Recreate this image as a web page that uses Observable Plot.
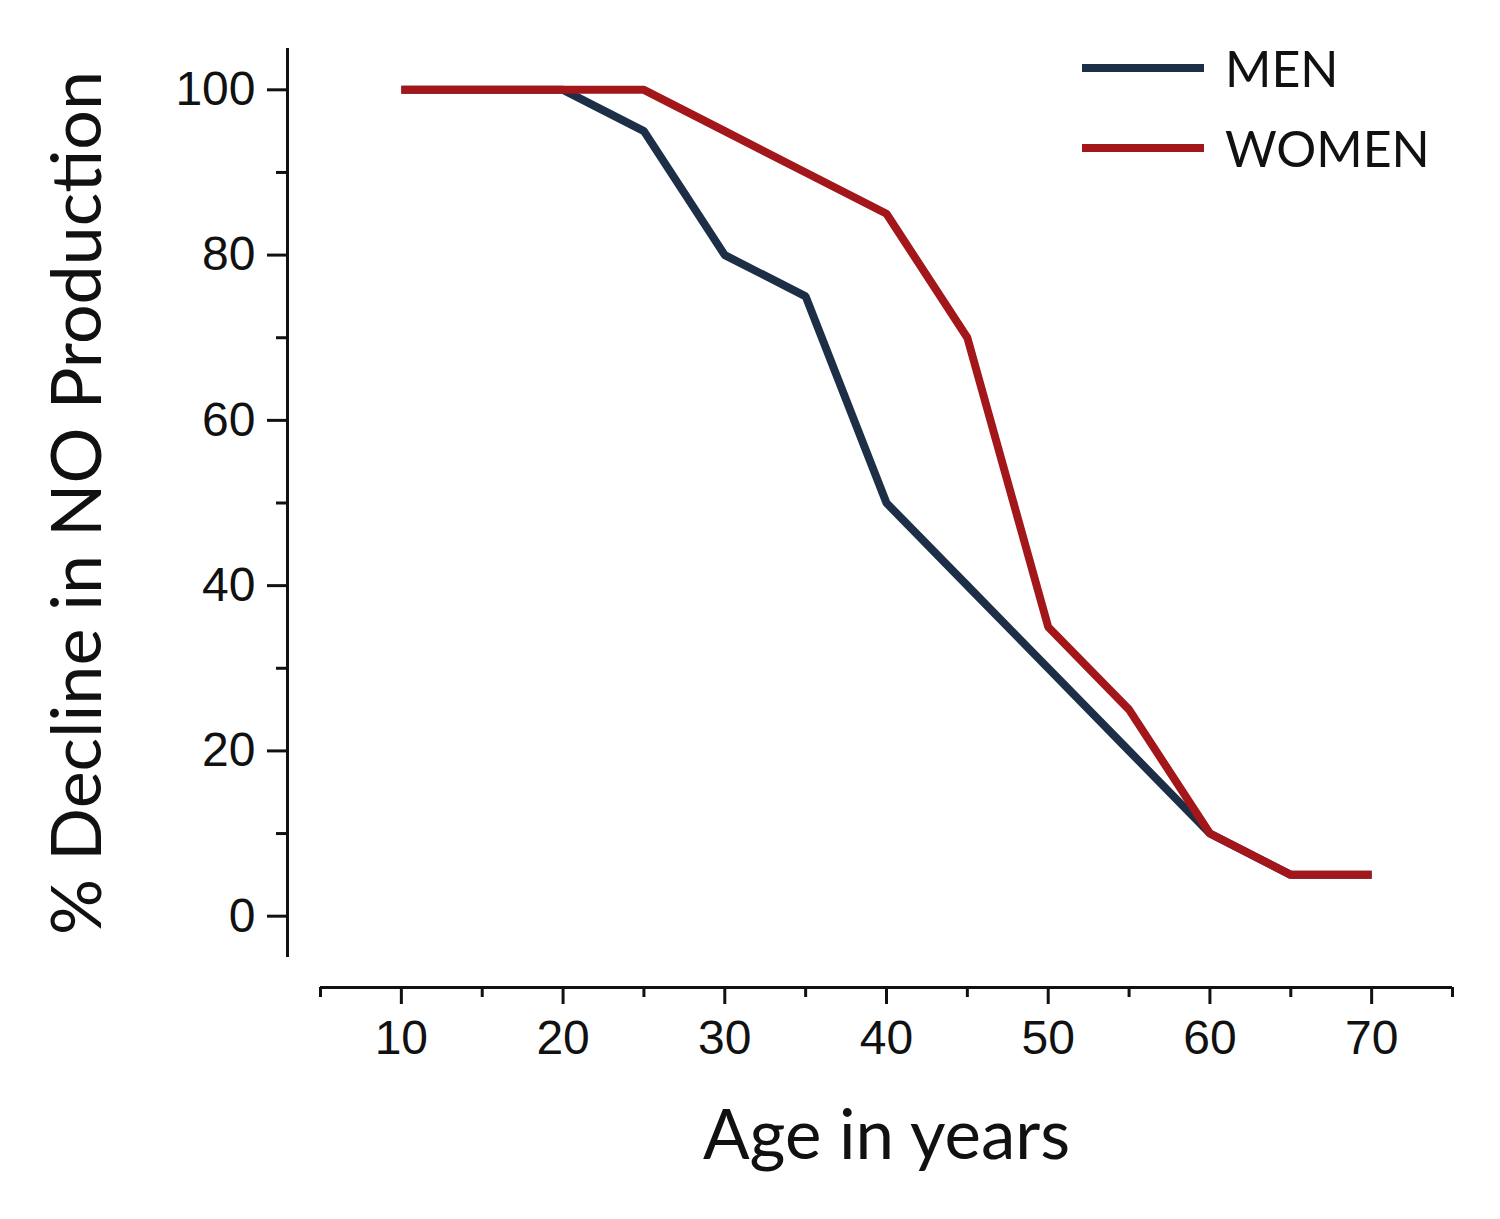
<!DOCTYPE html>
<html><head><meta charset="utf-8">
<script src="https://cdn.jsdelivr.net/npm/d3@7"></script>
<script src="https://cdn.jsdelivr.net/npm/@observablehq/plot@0.6"></script>
<style>
html,body{margin:0;padding:0;background:#fff;}
#wrap{position:relative;width:1500px;height:1219px;}
#legend{position:absolute;left:1082px;top:28px;font-family:Lato,sans-serif;font-size:50px;color:#111;}
.row{display:flex;align-items:center;height:80px;}
.sw{width:122px;height:8px;margin-right:21px;}
</style></head><body><div id="wrap"><div id="legend"></div></div>
<script>
const ages = [10, 15, 20, 25, 30, 35, 40, 45, 50, 55, 60, 65, 70];
const men = [100, 100, 100, 95, 80, 75, 50, 40, 30, 20, 10, 5, 5];
const women = [100, 100, 100, 100, 95, 90, 85, 70, 35, 25, 10, 5, 5];
const seriesNames = ["MEN", "WOMEN"];
const seriesColors = ["#1c2f47", "#a3171b"];
const xMajor = [10, 20, 30, 40, 50, 60, 70];
const xMinor = [5, 15, 25, 35, 45, 55, 65, 75];
const yMajor = [0, 20, 40, 60, 80, 100];
const yMinor = [10, 30, 50, 70, 90];
const xDomain = [5, 75];
const yDomain = [-5, 105];
const xTitle = "Age in years";
const yTitle = "% Decline in NO Production";

const rows = [];
ages.forEach((a, i) => rows.push({age: a, value: men[i], series: "MEN"}));
ages.forEach((a, i) => rows.push({age: a, value: women[i], series: "WOMEN"}));

const ink = "#111";
const chart = Plot.plot({
  width: 1500,
  height: 1219,
  marginLeft: 320,
  marginRight: 48,
  marginTop: 48,
  marginBottom: 262,
  style: {fontFamily: "'Liberation Sans', Arial, sans-serif", background: "#fff", color: ink},
  x: {domain: xDomain, axis: null},
  y: {domain: yDomain, axis: null},
  color: {domain: seriesNames, range: seriesColors},
  marks: [
    Plot.ruleX([xDomain[0]], {dx: -33, stroke: ink, strokeWidth: 3}),
    Plot.ruleY([yDomain[0]], {dy: 30, stroke: ink, strokeWidth: 3}),
    Plot.axisY({ticks: yMajor, tickSize: 20, tickPadding: 12, dx: -33, fontSize: 48, strokeWidth: 3, label: null, tickFormat: d => d, stroke: ink, fill: ink}),
    Plot.axisY({ticks: yMinor, tickSize: 11, text: null, dx: -33, strokeWidth: 3, label: null, stroke: ink}),
    Plot.axisX({ticks: xMajor, tickSize: 17, tickPadding: 15, dy: 30, fontSize: 48, strokeWidth: 3, label: null, tickFormat: d => d, stroke: ink, fill: ink}),
    Plot.axisX({ticks: xMinor, tickSize: 10, text: null, dy: 30, strokeWidth: 3, label: null, stroke: ink}),
    Plot.line(rows, {x: "age", y: "value", stroke: "series", z: "series", strokeWidth: 8, strokeLinejoin: "miter", strokeLinecap: "butt"}),
    Plot.text([xTitle], {frameAnchor: "bottom", lineAnchor: "middle", textAnchor: "middle", dy: 179, fontSize: 69, fontFamily: "Lato", fill: ink}),
    Plot.text([yTitle], {frameAnchor: "left", lineAnchor: "middle", textAnchor: "middle", dx: -242, rotate: -90, fontSize: 70, fontFamily: "Lato", fill: ink})
  ]
});
document.getElementById("wrap").prepend(chart);

const legend = d3.select("#legend");
seriesNames.forEach((name, i) => {
  const r = legend.append("div").attr("class", "row");
  r.append("div").attr("class", "sw").style("background", seriesColors[i]);
  r.append("span").text(name);
});
</script>
</body></html>
